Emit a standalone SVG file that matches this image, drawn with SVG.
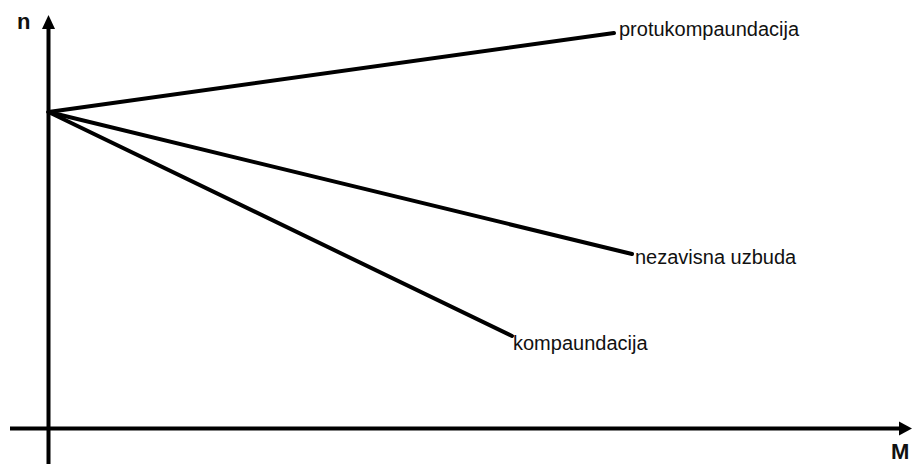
<svg xmlns="http://www.w3.org/2000/svg" width="912" height="464" viewBox="0 0 912 464">
<style>
.ax{stroke:#000;stroke-width:4;fill:none}
.ln{stroke:#000;stroke-width:4;fill:none;stroke-linecap:round}
.lbl{font-family:"Liberation Sans",Arial,sans-serif;font-size:20px;fill:#111}
.axl{font-family:"Liberation Sans",Arial,sans-serif;font-size:22px;font-weight:bold;fill:#111}
.ah{fill:#000}
</style>
<rect width="912" height="464" fill="#fff"/>
<g id="axes">
<line class="ax" x1="48.5" y1="464" x2="48.5" y2="26"/>
<polygon class="ah" points="48.5,15 42,29 55,29"/>
<line class="ax" x1="10" y1="428.5" x2="902" y2="428.5"/>
<polygon class="ah" points="912,428.5 899,421.5 899,435.5"/>
<text class="axl" x="17" y="29">n</text>
<text class="axl" x="891" y="459">M</text>
</g>
<g id="connectors">
<line class="ln" x1="48.5" y1="112" x2="614" y2="33"/>
<line class="ln" x1="48.5" y1="112" x2="632" y2="254"/>
<line class="ln" x1="48.5" y1="112" x2="512" y2="336"/>
</g>
<g id="protukompaundacija"><text class="lbl" x="619" y="36">protukompaundacija</text></g>
<g id="nezavisna"><text class="lbl" x="635" y="264">nezavisna uzbuda</text></g>
<g id="kompaundacija"><text class="lbl" x="513" y="350">kompaundacija</text></g>
</svg>
